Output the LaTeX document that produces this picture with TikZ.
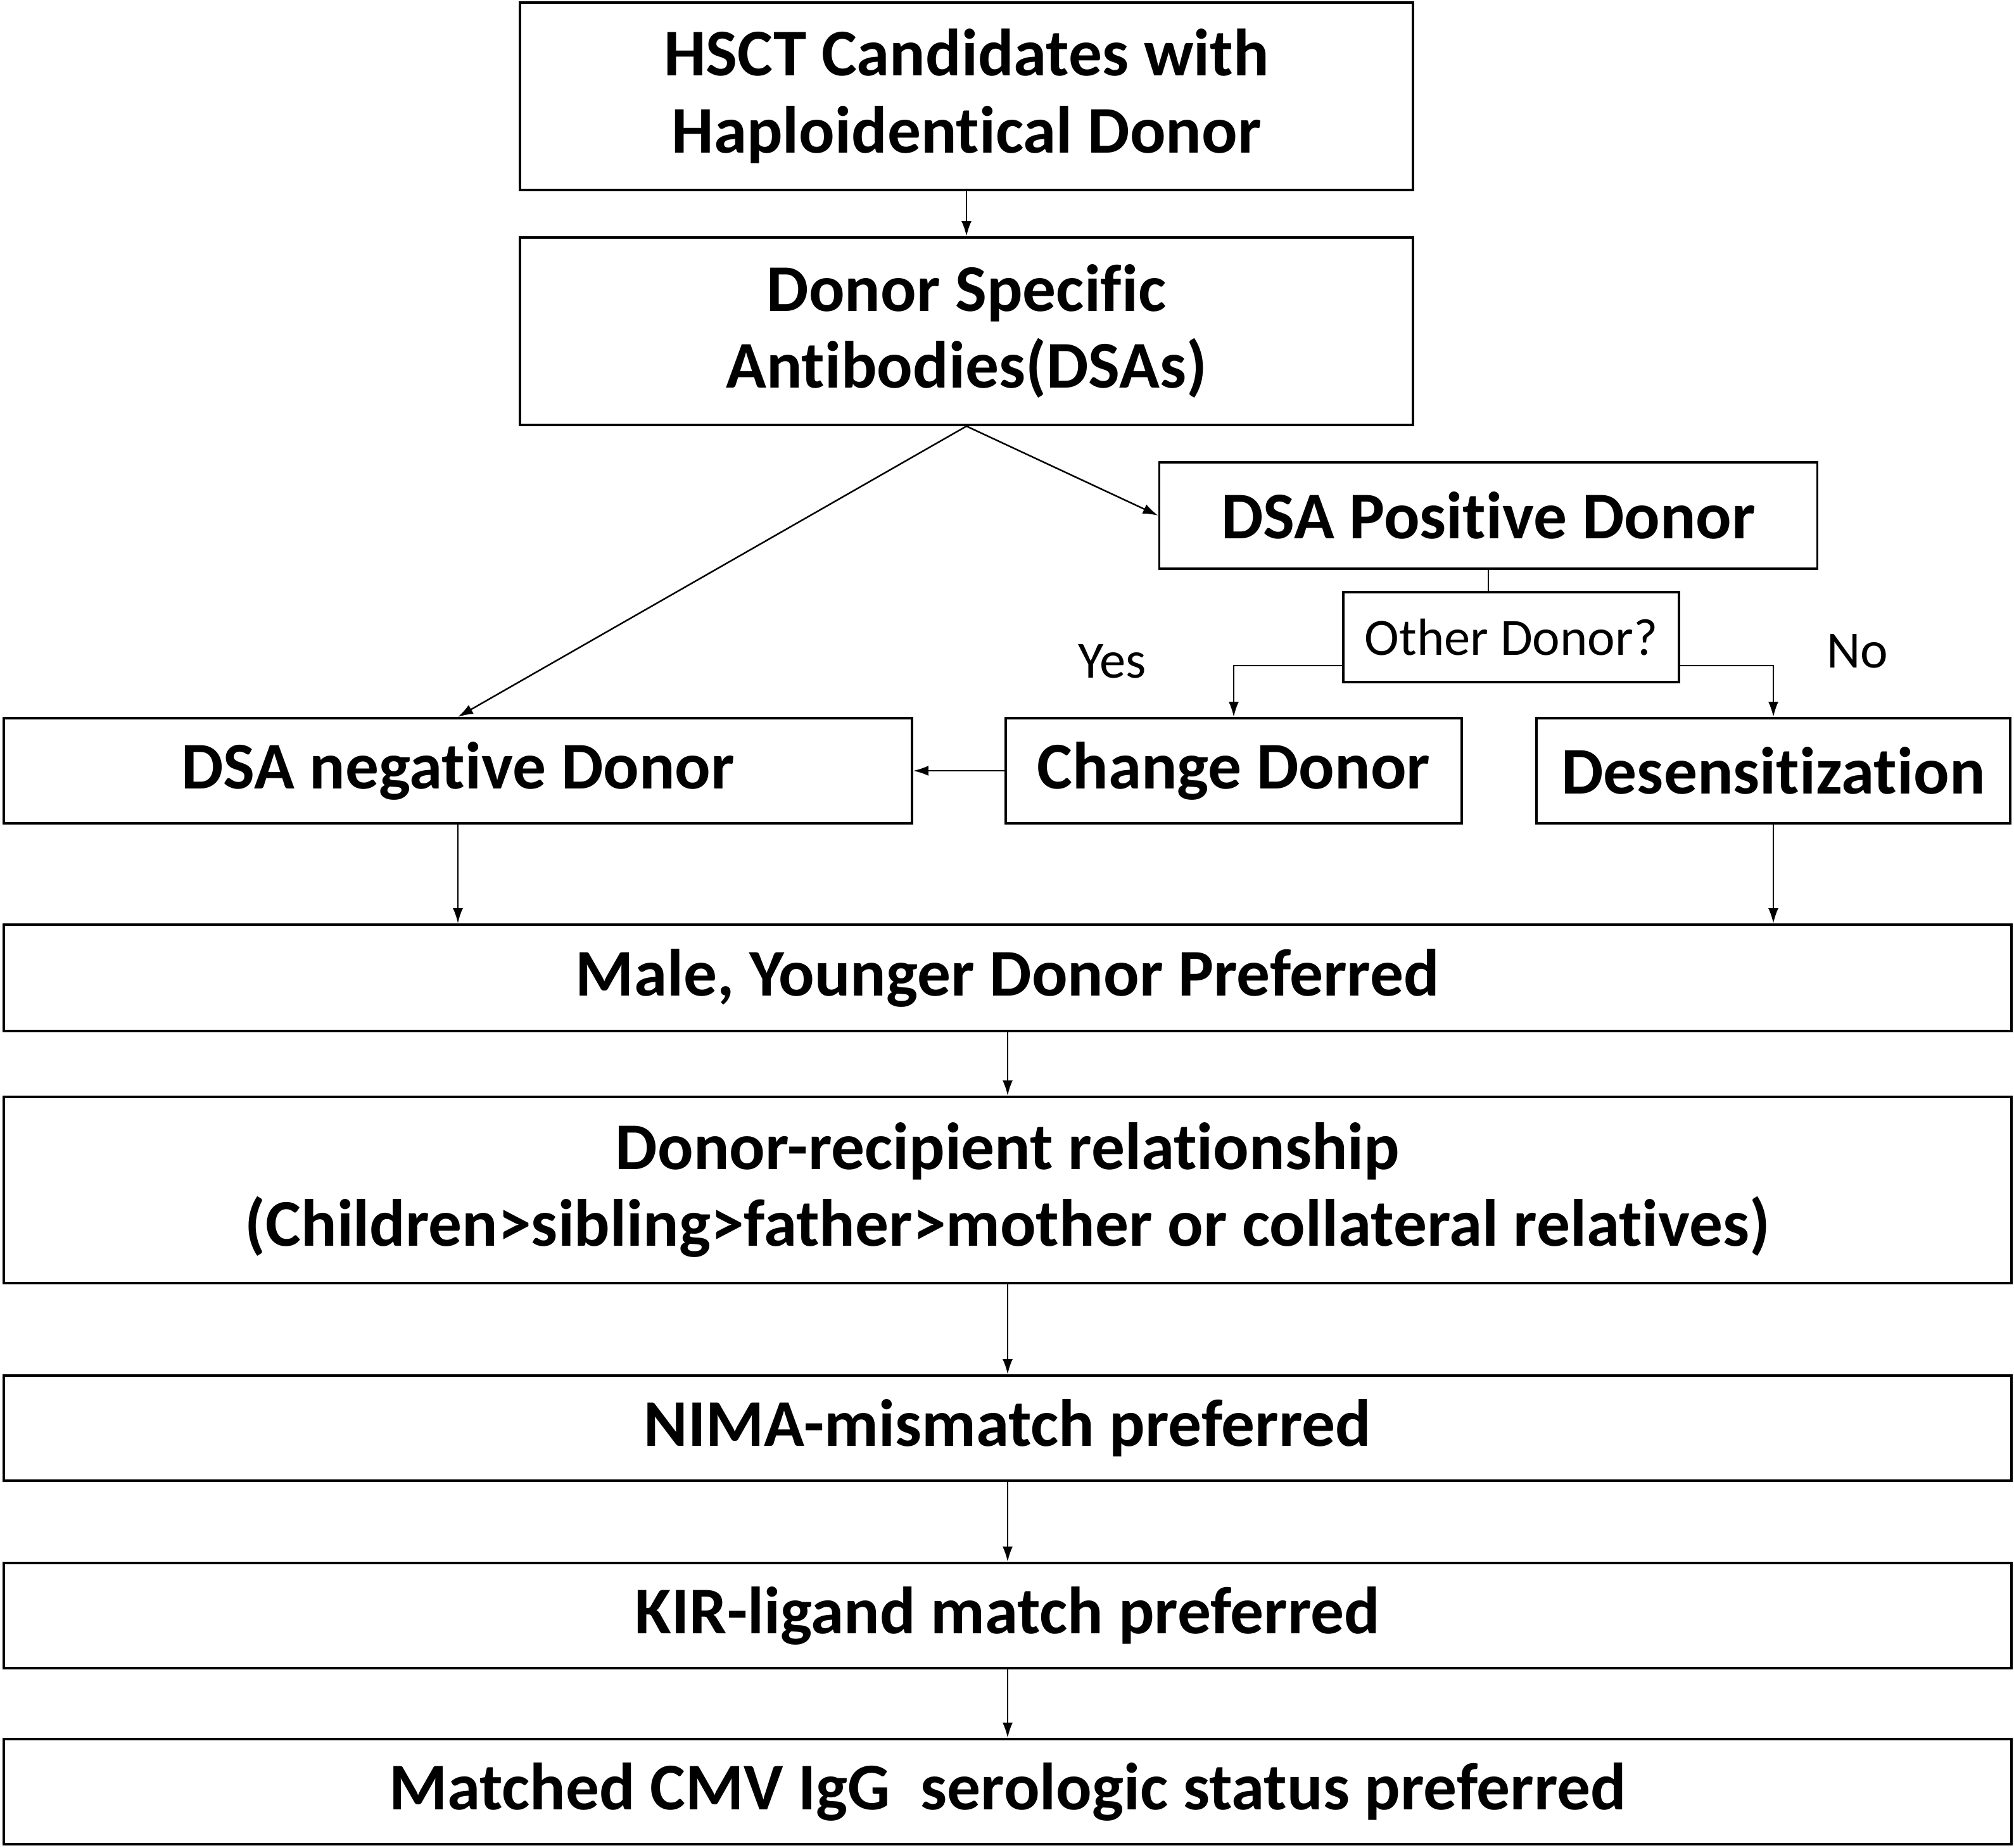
\documentclass[tikz,border=0pt]{standalone}
\usepackage{fontspec}
\setmainfont{Carlito}[Ligatures=NoCommon]
\usetikzlibrary{arrows.meta}
\begin{document}
\begin{tikzpicture}[
    box/.style={draw, line width=1.1pt, align=center, inner sep=0pt,
      font=\bfseries\fontsize{30}{34.6}\selectfont},
    small/.style={font=\fontsize{23.5}{26}\selectfont},
    arr/.style={-{Latex[length=2.4mm,width=1.6mm]}, line width=0.7pt}]
  \useasboundingbox (0,0) rectangle (31.8,-29.18);
  % top part
  \node[box, minimum width=14.1cm, minimum height=2.96cm] (hsct) at (15.26,-1.52)
    {HSCT Candidates with\\Haploidentical Donor};
  \node[box, minimum width=14.1cm, minimum height=2.96cm] (dsa) at (15.26,-5.23)
    {Donor Specific\\Antibodies(DSAs)};
  \node[box, minimum width=10.39cm, minimum height=1.68cm] (pos) at (23.5,-8.14)
    {DSA Positive Donor};
  \node[draw, line width=1.1pt, small, minimum width=5.3cm, minimum height=1.42cm,
    inner sep=0pt] (other) at (23.86,-10.06) {Other Donor?};
  \node[small] (yes) at (17.56,-10.44) {Yes};
  \node[small] (no) at (29.33,-10.28) {No};
  % middle row
  \node[box, minimum width=14.34cm, minimum height=1.66cm] (neg) at (7.23,-12.17)
    {DSA negative Donor};
  \node[box, minimum width=7.2cm, minimum height=1.66cm] (change) at (19.48,-12.17)
    {Change Donor};
  \node[box, minimum width=7.48cm, minimum height=1.66cm] (desen) at (28.0,-12.17)
    {Desensitization};
  % bottom part
  \node[box, minimum width=31.7cm, minimum height=1.68cm] (male) at (15.91,-15.44)
    {Male, Younger Donor Preferred};
  \node[box, minimum width=31.7cm, minimum height=2.94cm] (rel) at (15.91,-18.79)
    {Donor-recipient relationship\\(Children>sibling>father>mother or collateral relatives)};
  \node[box, minimum width=31.7cm, minimum height=1.66cm] (nima) at (15.91,-22.55)
    {NIMA-mismatch preferred};
  \node[box, minimum width=31.7cm, minimum height=1.66cm] (kir) at (15.91,-25.51)
    {KIR-ligand match preferred};
  \node[box, minimum width=31.7cm, minimum height=1.66cm] (cmv) at (15.91,-28.29)
    {Matched CMV IgG\ \ serologic status preferred};
  % connectors
  \draw[arr] (hsct.south) -- (dsa.north);
  \draw[arr] (dsa.south) -- (pos.west);
  \draw[arr] (dsa.south) -- (neg.north);
  \draw[line width=0.7pt] (pos.south) -- (pos.south |- other.north);
  \draw[arr] ([yshift=-0.45cm]other.west) -| (change.north);
  \draw[arr] ([yshift=-0.45cm]other.east) -| (desen.north);
  \draw[arr] (change.west) -- (neg.east);
  \draw[arr] (neg.south) -- (neg.south |- male.north);
  \draw[arr] (desen.south) -- (desen.south |- male.north);
  \foreach \A/\B in {male/rel,rel/nima,nima/kir,kir/cmv}
    \draw[arr] (\A.south) -- (\B.north);
\end{tikzpicture}
\end{document}
